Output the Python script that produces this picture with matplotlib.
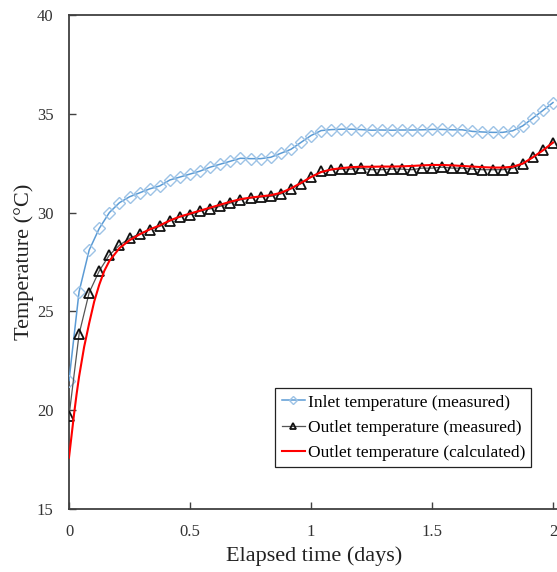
import matplotlib
matplotlib.use("Agg")
import matplotlib.pyplot as plt
import numpy as np

plt.rcParams['font.family'] = ['Liberation Serif', 'DejaVu Serif']

# Hourly measurements (hours 0..48)
hours = list(range(49))
inlet_measured = [21.5, 26.0, 28.1, 29.2, 30.0, 30.5, 30.8, 31.0, 31.2, 31.35,
                  31.65, 31.8, 31.95, 32.1, 32.3, 32.45, 32.6, 32.75, 32.73, 32.73,
                  32.8, 33.0, 33.2, 33.55, 33.9, 34.15, 34.2, 34.22, 34.22, 34.2,
                  34.17, 34.18, 34.17, 34.18, 34.18, 34.19, 34.21, 34.21, 34.19, 34.19,
                  34.11, 34.08, 34.06, 34.06, 34.14, 34.39, 34.78, 35.17, 35.57]
outlet_measured = [19.7, 23.85, 25.95, 27.05, 27.85, 28.35, 28.7, 28.92, 29.14, 29.3,
                   29.58, 29.78, 29.9, 30.07, 30.19, 30.32, 30.48, 30.65, 30.74, 30.79,
                   30.82, 30.94, 31.2, 31.46, 31.8, 32.08, 32.17, 32.2, 32.2, 32.24,
                   32.17, 32.17, 32.2, 32.2, 32.17, 32.25, 32.25, 32.3, 32.25, 32.25,
                   32.2, 32.17, 32.17, 32.17, 32.24, 32.47, 32.79, 33.15, 33.52]

# Calculated outlet temperature (hours, value)
calc_hours = [0, 0.25, 0.5, 0.75, 1, 1.5, 2, 2.5, 3, 3.5, 4, 5, 6, 7, 8, 9, 10, 11,
              12, 13, 14, 15, 16, 17, 18, 19, 20, 21, 22, 23, 24, 25, 26, 27, 28,
              29, 30, 31, 32, 33, 34, 35, 36, 37, 38, 39, 40, 41, 42, 43, 44, 45,
              46, 47, 48]
outlet_calculated = [17.6, 18.7, 19.8, 20.8, 21.7, 23.2, 24.4, 25.5, 26.35, 27.05,
                     27.55, 28.2, 28.6, 28.9, 29.15, 29.35, 29.6, 29.8, 29.95, 30.1,
                     30.25, 30.4, 30.55, 30.68, 30.76, 30.82, 30.88, 31.0, 31.22, 31.5,
                     31.8, 32.05, 32.18, 32.25, 32.3, 32.32, 32.32, 32.33, 32.33, 32.34,
                     32.36, 32.39, 32.41, 32.41, 32.39, 32.36, 32.33, 32.3, 32.28, 32.28,
                     32.32, 32.48, 32.8, 33.15, 33.55]

days = np.array(hours) / 24.0
calc_days = np.array(calc_hours) / 24.0

W, H = 557, 572
fig = plt.figure(figsize=(W / 100, H / 100), dpi=100)
left_px, right_px, top_px, bot_px = 69, 560, 15, 509
ax = fig.add_axes([left_px / W, 1 - bot_px / H, (right_px - left_px) / W, (bot_px - top_px) / H])

ax.plot(days, inlet_measured, color='#5B9BD5', lw=1.1, marker='D', ms=6.5,
        mfc='none', mec='#9DC3E6', mew=1.0, label='Inlet temperature (measured)', zorder=3)
ax.plot(days, outlet_measured, color='#555555', lw=0.9, marker='^', ms=6.5,
        mfc='none', mec='#111111', mew=1.3, label='Outlet temperature (measured)', zorder=3)
ax.plot(calc_days, outlet_calculated, color='#FF0000', lw=1.5,
        label='Outlet temperature (calculated)', zorder=4)

x_per_px = 2.0 / (553 - left_px)
ax.set_xlim(0, (right_px - left_px) * x_per_px)
ax.set_ylim(15, 40)
ax.set_xticks([0, 0.5, 1, 1.5, 2])
ax.set_xticklabels(['0', '0.5', '1', '1.5', '2'])
ax.set_yticks([15, 20, 25, 30, 35, 40])

for s in ['left', 'bottom', 'top']:
    ax.spines[s].set_color('#404040')
    ax.spines[s].set_linewidth(1.3)
ax.spines['right'].set_visible(False)

ax.tick_params(direction='in', length=5, width=1.0, color='#404040',
               labelsize=12, labelcolor='#333333', pad=11)
ax.tick_params(axis='y', right=False)

ax.set_xlabel('Elapsed time (days)', fontsize=16, color='#222222')
ax.set_ylabel('Temperature (°C)', fontsize=16, color='#222222')
ax.xaxis.set_label_coords(0.5, (bot_px - 546) / (bot_px - top_px))
ax.yaxis.set_label_coords((34 - left_px) / (right_px - left_px), 0.5)

leg = ax.legend(loc='lower right', bbox_to_anchor=(531 / W, 1 - 467 / H),
                bbox_transform=fig.transFigure, borderaxespad=0, fontsize=12.5,
                frameon=True, fancybox=False, edgecolor='#222222', framealpha=1,
                handlelength=1.35, handletextpad=0.15, labelspacing=0.52,
                borderpad=0.35, markerscale=0.6)
leg.get_frame().set_linewidth(0.9)

fig.savefig('out.png', dpi=100)
